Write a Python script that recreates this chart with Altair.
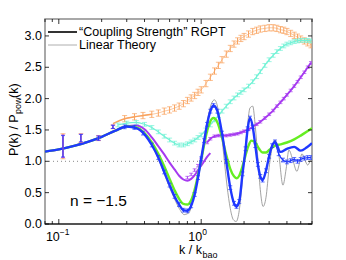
import altair as alt
import pandas as pd

# ---------------- data ----------------
lin_k = [0.08, 0.1, 0.13, 0.16, 0.2, 0.25, 0.3, 0.35, 0.4, 0.45, 0.5, 0.55, 0.6, 0.65, 0.7, 0.76, 0.82, 0.88,
         0.94, 1.0, 1.06, 1.12, 1.18, 1.24, 1.3, 1.37, 1.44, 1.52, 1.6, 1.68, 1.76, 1.84, 1.92, 2.0, 2.1, 2.2,
         2.3, 2.4, 2.5, 2.6, 2.72, 2.85, 3.0, 3.15, 3.3, 3.5, 3.75, 3.95, 4.13, 4.4, 4.7, 4.9, 5.1, 5.35, 5.6,
         5.85, 6.0]
lin_v = [1.155, 1.19, 1.25, 1.31, 1.39, 1.49, 1.555, 1.53, 1.43, 1.25, 1.04, 0.80, 0.58, 0.40, 0.25, 0.15, 0.18,
         0.40, 0.72, 1.05, 1.40, 1.72, 1.92, 1.98, 1.88, 1.55, 1.10, 0.60, 0.25, 0.07, 0.04, 0.18, 0.55, 1.0,
         1.50, 1.85, 1.88, 1.55, 1.05, 0.55, 0.28, 0.42, 0.90, 1.22, 1.34, 1.12, 0.62, 0.88, 1.18, 1.02, 0.84,
         0.97, 1.12, 1.02, 0.94, 1.01, 1.03]

blue_k = [0.08, 0.1, 0.13, 0.16, 0.2, 0.25, 0.3, 0.35, 0.4, 0.45, 0.5, 0.55, 0.6, 0.65, 0.7, 0.75, 0.8, 0.85,
          0.9, 0.95, 1.0, 1.05, 1.1, 1.16, 1.22, 1.3, 1.4, 1.5, 1.6, 1.7, 1.77, 1.85, 1.95, 2.05, 2.12, 2.2,
          2.3, 2.4, 2.5, 2.6, 2.7, 2.85, 3.0, 3.15, 3.3, 3.6, 4.0, 4.5, 5.0, 5.5, 6.0]
blue_v = [1.155, 1.19, 1.25, 1.31, 1.39, 1.49, 1.555, 1.53, 1.43, 1.26, 1.06, 0.83, 0.62, 0.44, 0.31, 0.22, 0.21,
          0.29, 0.47, 0.74, 1.04, 1.33, 1.59, 1.80, 1.89, 1.80, 1.45, 1.0, 0.58, 0.33, 0.28, 0.36, 0.80, 1.20,
          1.52, 1.69, 1.55, 1.25, 0.95, 0.76, 0.70, 0.85, 1.08, 1.25, 1.31, 1.15, 1.20, 1.23, 1.17, 1.22, 1.29]

blue_pts_k = [0.29, 0.34, 0.39, 0.45, 0.5, 0.55, 0.6, 0.65, 0.7, 0.75, 0.8, 0.85, 0.9, 0.95, 1.0, 1.05, 1.1,
              1.16, 1.22, 1.3, 1.4, 1.5, 1.6, 1.7, 1.77, 1.85, 1.95, 2.05, 2.12, 2.2, 2.3, 2.4, 2.5, 2.6, 2.7,
              2.85, 3.0, 3.15, 3.3, 3.5, 3.75, 4.0, 4.25, 4.5, 4.75, 5.0, 5.3, 5.6, 5.9]
blue_pts_v = [1.55, 1.54, 1.45, 1.26, 1.06, 0.83, 0.62, 0.44, 0.31, 0.22, 0.21, 0.29, 0.47, 0.74, 1.04, 1.33,
              1.59, 1.80, 1.89, 1.80, 1.45, 1.0, 0.58, 0.33, 0.28, 0.36, 0.80, 1.20, 1.52, 1.69, 1.55, 1.25,
              0.95, 0.76, 0.70, 0.85, 1.08, 1.25, 1.31, 1.12, 1.02, 0.99, 1.01, 1.03, 1.0, 1.03, 1.05, 1.06, 1.06]
blue_tail_k = [3.3, 3.5, 3.75, 4.0, 4.25, 4.5, 4.75, 5.0, 5.3, 5.6, 5.9]
blue_tail_v = [1.31, 1.12, 1.02, 0.99, 1.01, 1.03, 1.0, 1.03, 1.05, 1.06, 1.06]

green_k = [0.08, 0.1, 0.13, 0.16, 0.2, 0.25, 0.3, 0.35, 0.4, 0.45, 0.5, 0.55, 0.6, 0.65, 0.7, 0.75, 0.8, 0.85,
           0.9, 0.95, 1.0, 1.05, 1.1, 1.16, 1.22, 1.3, 1.4, 1.5, 1.6, 1.7, 1.77, 1.85, 1.95, 2.05, 2.15, 2.25,
           2.4, 2.55, 2.7, 2.85, 3.0, 3.3, 3.6, 4.0, 4.5, 5.0, 5.5, 6.0]
green_v = [1.155, 1.19, 1.25, 1.31, 1.39, 1.49, 1.555, 1.54, 1.45, 1.30, 1.12, 0.92, 0.72, 0.54, 0.40, 0.32, 0.31,
           0.38, 0.55, 0.78, 1.02, 1.27, 1.48, 1.64, 1.69, 1.62, 1.38, 1.10, 0.88, 0.76, 0.73, 0.77, 0.92, 1.10,
           1.25, 1.33, 1.30, 1.20, 1.14, 1.14, 1.18, 1.25, 1.27, 1.30, 1.35, 1.41, 1.47, 1.53]

purple_k = [0.08, 0.1, 0.13, 0.16, 0.2, 0.25, 0.3, 0.35, 0.4, 0.45, 0.5, 0.55, 0.6, 0.65, 0.7, 0.75, 0.8, 0.85,
            0.9, 0.95, 1.0, 1.05, 1.1, 1.16]
purple_v = [1.155, 1.19, 1.25, 1.31, 1.39, 1.49, 1.56, 1.57, 1.51, 1.38, 1.24, 1.11, 0.98, 0.87, 0.77, 0.71,
            0.69, 0.72, 0.78, 0.86, 0.93, 1.0, 1.07, 1.13]
purple_pts_k = [0.8, 0.85, 0.9, 0.95, 1.0, 1.1, 1.16, 1.24, 1.32, 1.4, 1.5, 1.6, 1.7, 1.8, 1.9, 2.0, 2.15, 2.3,
                2.45, 2.6, 2.8, 3.0, 3.2, 3.4, 3.6, 3.8, 4.0, 4.25, 4.5, 4.75, 5.0, 5.3, 5.6, 5.9]
purple_pts_v = [0.74, 0.79, 0.86, 0.93, 1.02, 1.30, 1.36, 1.40, 1.41, 1.41, 1.41, 1.42, 1.43, 1.44, 1.46, 1.48,
                1.51, 1.55, 1.59, 1.63, 1.69, 1.75, 1.81, 1.88, 1.94, 2.0, 2.06, 2.13, 2.2, 2.27, 2.34, 2.42,
                2.50, 2.57]
purple_line_k = [1.1, 1.16, 1.24, 1.32, 1.4, 1.5, 1.6, 1.7, 1.8, 1.9, 2.0, 2.15, 2.3, 2.45, 2.6, 2.8, 3.0,
                 3.2, 3.4, 3.6, 3.8, 4.0, 4.25, 4.5, 4.75, 5.0, 5.3, 5.6, 5.9]
purple_line_v = [1.30, 1.36, 1.40, 1.41, 1.41, 1.41, 1.42, 1.43, 1.44, 1.46, 1.48, 1.51, 1.55, 1.59, 1.63,
                 1.69, 1.75, 1.81, 1.88, 1.94, 2.0, 2.06, 2.13, 2.2, 2.27, 2.34, 2.42, 2.50, 2.57]

cyan_k = [0.26, 0.3, 0.35, 0.4, 0.45, 0.5, 0.55, 0.6, 0.65, 0.7, 0.75, 0.8, 0.85, 0.9, 0.95, 1.0, 1.08, 1.16,
          1.24, 1.32, 1.4, 1.5, 1.6, 1.7, 1.8, 1.9, 2.0, 2.15, 2.3, 2.45, 2.6, 2.8, 3.0, 3.2, 3.4, 3.6, 3.8,
          4.0, 4.25, 4.5, 4.75, 5.0, 5.3, 5.6, 5.9]
cyan_v = [1.58, 1.61, 1.62, 1.59, 1.54, 1.47, 1.40, 1.34, 1.29, 1.26, 1.26, 1.28, 1.31, 1.34, 1.38, 1.42, 1.50,
          1.58, 1.66, 1.73, 1.80, 1.88, 1.95, 2.01, 2.06, 2.10, 2.14, 2.20, 2.27, 2.35, 2.43, 2.53, 2.62, 2.69,
          2.75, 2.80, 2.84, 2.87, 2.89, 2.91, 2.92, 2.93, 2.93, 2.93, 2.92]

orange_k = [0.29, 0.34, 0.39, 0.45, 0.5, 0.55, 0.6, 0.65, 0.7, 0.75, 0.8, 0.85, 0.9, 0.95, 1.0, 1.08, 1.16,
            1.24, 1.32, 1.4, 1.5, 1.6, 1.7, 1.8, 1.9, 2.0, 2.15, 2.3, 2.45, 2.6, 2.8, 3.0, 3.2, 3.4, 3.6, 3.8,
            4.0, 4.25, 4.5, 4.75, 5.0, 5.3, 5.6, 5.9]
orange_v = [1.68, 1.71, 1.73, 1.75, 1.77, 1.80, 1.82, 1.85, 1.88, 1.92, 1.97, 2.01, 2.05, 2.10, 2.14, 2.24,
            2.34, 2.44, 2.53, 2.62, 2.71, 2.80, 2.87, 2.92, 2.96, 2.99, 3.03, 3.07, 3.09, 3.11, 3.12, 3.13,
            3.13, 3.12, 3.10, 3.09, 3.07, 3.04, 3.01, 2.98, 2.95, 2.92, 2.89, 2.86]
orange_line_k = [0.24, 0.29, 0.34, 0.39, 0.45]
orange_line_v = [1.60, 1.68, 1.71, 1.73, 1.75]

low_k = [0.107, 0.143, 0.19, 0.24]
low_v = [1.24, 1.37, 1.37, 1.55]
low_err = [0.2, 0.07, 0.04, 0.03]

y_ticks = [0.0, 0.5, 1.0, 1.5, 2.0, 2.5, 3.0]
y_labels = ["0.0", "0.5", "1.0", "1.5", "2.0", "2.5", "3.0"]
x_major = [0.1, 1.0]
x_minor = [0.08, 0.09, 0.2, 0.3, 0.4, 0.5, 0.6, 0.7, 0.8, 0.9, 2, 3, 4, 5, 6]
x_labels = ["10", "10"]
x_sup = ["\u22121", "0"]

# ---------------- styling ----------------
C_OR = "#f9a25e"
C_CY = "#72f2d6"
C_PU = "#a63af0"
C_GR = "#66ee22"
C_BL = "#1f38ff"
FONT = "Liberation Sans"

W, H = 267, 205
XS = alt.Scale(type="log", domain=[0.08, 6])
YS = alt.Scale(domain=[0, 3.27], nice=False, zero=False)


def X():
    return alt.X("k:Q", scale=XS, axis=None)


def Yf(field):
    return alt.Y(f"{field}:Q", scale=YS, axis=None)


def df(k, v, err=None):
    d = pd.DataFrame({"k": k, "v": v})
    if err is not None:
        d["lo"] = d["v"] - err
        d["hi"] = d["v"] + err
    return d


def line(d, color, width, interp="monotone"):
    return alt.Chart(d).mark_line(color=color, strokeWidth=width, interpolate=interp, clip=True).encode(
        x=X(), y=Yf("v"))


def errbars(d, color, cap=4, width=1):
    r = alt.Chart(d).mark_rule(color=color, strokeWidth=width, clip=True).encode(x=X(), y=Yf("lo"), y2="hi:Q")
    lo = alt.Chart(d).mark_tick(color=color, orient="horizontal", size=cap, thickness=1, clip=True).encode(
        x=X(), y=Yf("lo"))
    hi = alt.Chart(d).mark_tick(color=color, orient="horizontal", size=cap, thickness=1, clip=True).encode(
        x=X(), y=Yf("hi"))
    return r + lo + hi


# dotted line at 1
base = alt.Chart(pd.DataFrame({"k": [0.08, 6.0], "v": [1.0, 1.0]})).mark_line(
    color="#888888", strokeDash=[1, 3], strokeWidth=1).encode(x=X(), y=Yf("v"))

layers = [base]

# linear theory
layers.append(line(df(lin_k, lin_v), "#8a8a8a", 0.8))

# orange
od = df(orange_k, orange_v, 0.05)
layers.append(line(df(orange_line_k, orange_line_v), C_OR, 1.5))
layers.append(line(od, C_OR, 0.6))
layers.append(errbars(od, C_OR, cap=5))

# cyan
cd = df(cyan_k, cyan_v, 0.03)
layers.append(line(cd, C_CY, 1.2))
layers.append(errbars(cd, C_CY, cap=5))

# purple
layers.append(line(df(purple_k, purple_v), C_PU, 2))
layers.append(line(df(purple_line_k, purple_line_v), C_PU, 1.8))
layers.append(errbars(df(purple_pts_k, purple_pts_v, 0.02), C_PU, cap=4))

# green
layers.append(line(df(green_k, green_v), C_GR, 2.4))

# blue
layers.append(line(df(blue_tail_k, blue_tail_v), C_BL, 1.2))
layers.append(line(df(blue_k, blue_v), C_BL, 2.4))
layers.append(errbars(df(blue_pts_k, blue_pts_v, 0.03), C_BL, cap=4))

# low-k shared points
layers.append(errbars(df(low_k, low_v, low_err), C_OR, cap=5, width=1.4))
layers.append(errbars(df(low_k, low_v, [e * 0.9 for e in low_err]), C_PU, cap=4, width=1.2))
layers.append(errbars(df(low_k, low_v, [e * 0.85 for e in low_err]), C_BL, cap=4, width=1))

# bottom axis line (black)
layers.append(alt.Chart(pd.DataFrame({"a": [0]})).mark_rule(color="black", strokeWidth=1).encode(
    x=alt.value(0), x2=alt.value(W), y=alt.value(H)))

# ticks (inward)
majd = pd.DataFrame({"k": x_major})
mind = pd.DataFrame({"k": x_minor})
for d, ln in ((majd, 5), (mind, 3)):
    layers.append(alt.Chart(d).mark_rule(color="black", strokeWidth=0.8).encode(
        x=X(), y=alt.value(H), y2=alt.value(H - ln)))
    layers.append(alt.Chart(d).mark_rule(color="black", strokeWidth=0.8).encode(
        x=X(), y=alt.value(0), y2=alt.value(ln)))
ytd = pd.DataFrame({"v": y_ticks, "t": y_labels})
layers.append(alt.Chart(ytd).mark_rule(color="black", strokeWidth=0.8).encode(
    y=Yf("v"), x=alt.value(0), x2=alt.value(4)))
layers.append(alt.Chart(ytd).mark_rule(color="black", strokeWidth=0.8).encode(
    y=Yf("v"), x=alt.value(W), x2=alt.value(W - 4)))
layers.append(alt.Chart(ytd).mark_text(font=FONT, fontSize=12.5, align="right", baseline="middle",
                                       color="black").encode(y=Yf("v"), x=alt.value(-3), text="t:N"))

# x tick labels 10^-1, 10^0
xl = pd.DataFrame({"k": x_major, "t": x_labels, "s": x_sup})
layers.append(alt.Chart(xl).mark_text(font=FONT, fontSize=12.5, align="right", baseline="middle", dx=1,
                                      color="black").encode(x=X(), y=alt.value(H + 13), text="t:N"))
layers.append(alt.Chart(xl).mark_text(font=FONT, fontSize=8.5, align="left", baseline="middle", dx=1,
                                      color="black").encode(x=X(), y=alt.value(H + 8), text="s:N"))


# free texts
def txt(s, x, y, size, align="left", angle=0, color="black"):
    return alt.Chart(pd.DataFrame({"t": [s]})).mark_text(
        font=FONT, fontSize=size, align=align, baseline="middle", angle=angle, color=color).encode(
        text="t:N", x=alt.value(x), y=alt.value(y))


layers.append(txt("k / k", 157, 231, 12.5, align="right"))
layers.append(txt("bao", 157.5, 236, 9))
layers.append(txt("P(k) / P", -31, 137, 12.5, angle=270))
layers.append(txt("pow", -27, 95, 9, angle=270))
layers.append(txt("(k)", -31, 79, 12.5, angle=270))

# legend
layers.append(alt.Chart(pd.DataFrame({"a": [0]})).mark_rule(color="#333333", strokeWidth=2).encode(
    x=alt.value(3), x2=alt.value(32), y=alt.value(13)))
layers.append(alt.Chart(pd.DataFrame({"a": [0]})).mark_rule(color="#999999", strokeWidth=0.8).encode(
    x=alt.value(3), x2=alt.value(32), y=alt.value(26)))
layers.append(txt("\u201cCoupling Strength\u201d RGPT", 34, 13, 12.5))
layers.append(txt("Linear Theory", 34, 26, 12.5))

# annotation
layers.append(txt("n = \u22121.5", 25, 182, 15.5))

chart = alt.layer(*layers).properties(
    width=W, height=H,
    autosize=alt.AutoSizeParams(type="none"),
    padding={"left": 37, "top": 11, "right": 26, "bottom": 36},
).configure_view(stroke="#8c8c8c", strokeWidth=1.5)

chart.save("out.html", embed_options={"renderer": "svg", "actions": False})
